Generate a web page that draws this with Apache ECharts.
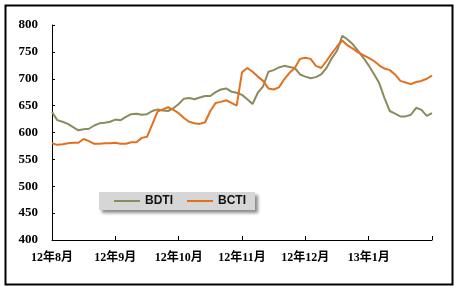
<!DOCTYPE html>
<html><head><meta charset="utf-8">
<script src="https://cdn.jsdelivr.net/npm/echarts@6/dist/echarts.min.js"></script>
<style>html,body{margin:0;padding:0;background:#fff}#c{width:455px;height:286px}</style>
</head><body><div id="c"></div>
<script>
const monthLabels = ['12年8月','12年9月','12年10月','12年11月','12年12月','13年1月','13年2月'];
const pointsPerMonth = 12;
const yTicks = {min: 400, max: 800, step: 50};
const bdti = [638,623,620,616,610,604,606,607,613,617,618,620,
  624,623,629,634,635,633,634,640,643,641,640,645,
  653,663,664,662,665,668,668,675,680,682,676,674,
  670,662,653,674,686,713,716,721,724,722,720,708,
  704,701,703,708,720,738,752,780,773,764,752,739,
  725,709,692,664,640,635,630,630,633,646,642,631,636];
const bcti = [580,577,578,580,581,581,588,584,579,579,580,580,
  581,579,579,582,582,590,592,615,639,643,647,642,
  636,627,620,617,616,619,640,655,657,660,655,650,
  712,720,713,704,696,682,680,684,699,711,720,737,
  739,737,724,720,733,747,760,771,762,756,749,744,
  739,733,725,719,716,708,696,693,690,694,696,700,706];

const cats = [];
for (let i = 0; i < bdti.length; i++) {
  const m = Math.floor(i / pointsPerMonth), k = i % pointsPerMonth;
  cats.push(k === 0 ? monthLabels[m] : monthLabels[m] + '-' + k);
}
const lastIdx = bdti.length - 1;
const font = '"Liberation Serif","Times New Roman","Noto Sans CJK SC",serif';

const chart = echarts.init(document.getElementById('c'), null, {renderer: 'canvas'});
chart.setOption({
  animation: false,
  backgroundColor: '#fff',
  grid: {left: 52, right: 23, top: 25, bottom: 46, containLabel: false},
  graphic: [{type: 'rect', left: 3, top: 3, shape: {width: 447, height: 279},
    style: {fill: 'none', stroke: '#000', lineWidth: 2}, z: 100}],
  legend: {
    left: 99, top: 192, padding: [3, 9, 3, 15], itemGap: 14,
    itemWidth: 26, itemHeight: 2, icon: 'rect',
    backgroundColor: '#d6d6d6',
    shadowColor: 'rgba(0,0,0,0.45)', shadowBlur: 3, shadowOffsetX: 3, shadowOffsetY: 3,
    textStyle: {fontFamily: 'Arial, "Liberation Sans", sans-serif', fontWeight: 'bold', fontSize: 12, color: '#111'},
    data: ['BDTI', 'BCTI']
  },
  xAxis: {
    type: 'category', data: cats, boundaryGap: false,
    axisLine: {lineStyle: {color: '#000', width: 1}},
    axisTick: {inside: true, length: 4, interval: (i) => i % pointsPerMonth === 0, lineStyle: {color: '#000'}},
    axisLabel: {interval: (i) => i % pointsPerMonth === 0, margin: 12,
      formatter: (v, i) => (i === lastIdx ? '' : v),
      fontFamily: font, fontWeight: 'bold', fontSize: 12, color: '#000'},
    splitLine: {show: false}
  },
  yAxis: {
    type: 'value', min: yTicks.min, max: yTicks.max, interval: yTicks.step,
    axisLine: {show: true, lineStyle: {color: '#000', width: 1}},
    axisTick: {show: true, inside: true, length: 3, lineStyle: {color: '#000'}},
    axisLabel: {margin: 14, fontFamily: font, fontWeight: 'bold', fontSize: 13, color: '#000'},
    splitLine: {show: false}
  },
  series: [
    {name: 'BDTI', type: 'line', data: bdti, showSymbol: false, symbol: 'none',
      lineStyle: {color: '#8b8b5e', width: 2}, itemStyle: {color: '#8b8b5e'}},
    {name: 'BCTI', type: 'line', data: bcti, showSymbol: false, symbol: 'none',
      lineStyle: {color: '#e2701e', width: 2}, itemStyle: {color: '#e2701e'}}
  ]
});
</script></body></html>
